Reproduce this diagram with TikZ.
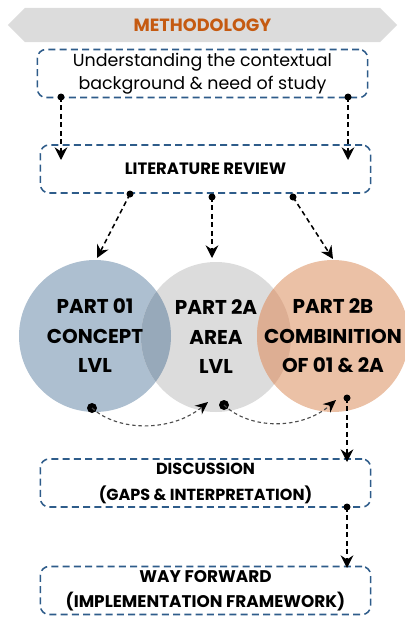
\documentclass[tikz,border=0pt]{standalone}
\usepackage{fontspec}
\setmainfont{Poppins}
\usetikzlibrary{arrows.meta,shapes.symbols,backgrounds}
\definecolor{boxblue}{HTML}{2E5C8A}
\definecolor{bannergray}{HTML}{DCDCDC}
\definecolor{titleorange}{HTML}{C55A11}
\definecolor{blueC}{HTML}{ADBFD0}
\definecolor{grayC}{HTML}{DCDCDC}
\definecolor{orangeC}{HTML}{EBC1A6}
\definecolor{lapBG}{HTML}{97A9BA}
\definecolor{lapGO}{HTML}{DDAE93}
\begin{document}
\begin{tikzpicture}[x=0.025cm,y=-0.025cm,
    banner/.style={signal, signal to=west and east, signal pointer angle=90,
      fill=bannergray, minimum width=9.73cm, minimum height=0.85cm, inner sep=0pt,
      font=\fontsize{12.6}{14}\selectfont\bfseries, text=titleorange},
    stage/.style={draw=boxblue, line width=1.1pt, dash pattern=on 5pt off 3pt,
      rounded corners=6pt, minimum width=8.25cm, minimum height=1.2cm,
      align=center, inner sep=0pt},
    part/.style={circle, minimum size=3.8cm, align=center, inner sep=0pt,
      font=\fontsize{14.2}{21}\selectfont\bfseries},
    flow/.style={line width=1.1pt, dash pattern=on 3.5pt off 2.5pt,
      -{Stealth[length=9pt,width=9pt,inset=3pt]}},
    link/.style={draw=black!70, line width=0.8pt, dash pattern=on 2.5pt off 2pt,
      -{Stealth[length=9pt,width=8pt,inset=3pt,color=black]}}]
  \useasboundingbox (0,0) rectangle (404,619);

  % title banner and boxes
  \node[banner] (title) at (202.5,25) {METHODOLOGY};
  \node[stage, font=\fontsize{12.4}{16.5}\selectfont] (context) at (202.5,73.5)
    {Understanding the contextual\\background \& need of study};
  \node[stage, font=\fontsize{11.7}{13}\selectfont\bfseries] (review) at (205.5,169)
    {LITERATURE REVIEW};
  \node[stage, font=\fontsize{11.4}{18.5}\selectfont\bfseries] (discuss) at (205.5,483)
    {DISCUSSION\\(GAPS \& INTERPRETATION)};
  \node[stage, font=\fontsize{12}{18}\selectfont\bfseries] (forward) at (205.5,590.5)
    {WAY FORWARD\\(IMPLEMENTATION FRAMEWORK)};

  % the three parts
  \node[part] (concept) at (95,336) {PART 01\\CONCEPT\\LVL};
  \node[part] (area) at (216,337) {PART 2A\\AREA\\LVL};
  \node[part] (combi) at (333,336) {PART 2B\\COMBINITION\\OF 01 \& 2A};
  \begin{pgfonlayer}{background}
    \fill[blueC] (concept.center) circle (76);
    \fill[grayC] (area.center) circle (75);
    \fill[orangeC] (combi.center) circle (76);
    \begin{scope}
      \clip (concept.center) circle (76);
      \fill[lapBG] (area.center) circle (75);
    \end{scope}
    \begin{scope}
      \clip (area.center) circle (75);
      \fill[lapGO] (combi.center) circle (76);
    \end{scope}
  \end{pgfonlayer}

  % connector ends
  \coordinate (c1) at (61,97);   \coordinate (r1) at (61,160);
  \coordinate (c2) at (348,97);  \coordinate (r2) at (348,160);
  \coordinate (l1) at (130,194); \coordinate (p1) at (97,258);
  \coordinate (l2) at (212,197); \coordinate (p2) at (212,258);
  \coordinate (l3) at (293,197); \coordinate (p3) at (333,259);
  \coordinate (b1) at (92,408);  \coordinate (e1) at (208,402);
  \coordinate (b2) at (224,405); \coordinate (e2) at (336,400);
  \coordinate (b3) at (347,398); \coordinate (d1) at (347,462);
  \coordinate (b4) at (347,507); \coordinate (d2) at (347,568);

  \foreach \pt in {c1,c2} \fill (\pt) circle (3.5);
  \foreach \pt in {l1,l2,l3} \fill (\pt) circle (3.5);
  \foreach \pt in {b1,b2} \fill (\pt) circle (5);
  \foreach \pt in {b3,b4} \fill (\pt) circle (3.5);

  \draw[flow] (c1) -- (r1);
  \draw[flow] (c2) -- (r2);
  \draw[flow] (l1) -- (p1);
  \draw[flow] (l2) -- (p2);
  \draw[flow] (l3) -- (p3);
  \draw[link] (b1) .. controls (118,432) and (172,432) .. (e1);
  \draw[link] (b2) .. controls (250,430) and (302,430) .. (e2);
  \draw[flow] (b3) -- (d1);
  \draw[flow] (b4) -- (d2);
\end{tikzpicture}
\end{document}
